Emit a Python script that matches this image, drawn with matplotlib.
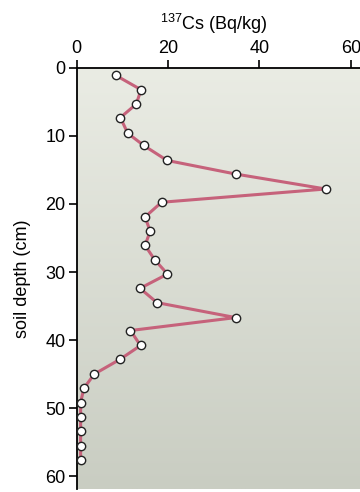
import numpy as np
import matplotlib
matplotlib.use("Agg")
import matplotlib.pyplot as plt
from matplotlib.colors import LinearSegmentedColormap

plt.rcParams['font.family'] = ['Liberation Sans Narrow', 'Liberation Sans', 'DejaVu Sans']
plt.rcParams['mathtext.fontset'] = 'custom'
plt.rcParams['mathtext.rm'] = 'Liberation Sans'

# 137Cs activity (Bq/kg) against soil depth (cm)
depth = [1.1, 3.2, 5.3, 7.3, 9.6, 11.4, 13.6, 15.6, 17.8, 19.75, 21.9, 24.0, 26.1,
         28.2, 30.3, 32.4, 34.5, 36.7, 38.6, 40.8, 42.8, 45.0, 47.1, 49.2, 51.3,
         53.4, 55.6, 57.6]
cs137 = [8.6, 14.1, 13.1, 9.6, 11.2, 14.7, 19.8, 34.8, 54.5, 18.6, 15.0, 16.1, 15.0,
         17.1, 19.9, 13.9, 17.6, 34.8, 11.8, 14.0, 9.6, 3.9, 1.6, 0.9, 0.9,
         0.9, 0.9, 0.9]
xticks = [0, 20, 40, 60]
yticks = [0, 10, 20, 30, 40, 50, 60]

fig = plt.figure(figsize=(3.6, 4.92), dpi=100)
ax = fig.add_axes([0.2125, 0.006, 0.7875, 0.856])

# background gradient, light at top, darker at bottom
cmap = LinearSegmentedColormap.from_list('bg', ['#eaece4', '#c9cdc2'])
grad = np.linspace(0, 1, 256).reshape(-1, 1)
ax.imshow(grad, extent=[0, 1, 0, 1], transform=ax.transAxes, aspect='auto',
          cmap=cmap, zorder=0, origin='upper')

ax.plot(cs137, depth, color='#c6627b', lw=2.2, zorder=2, solid_capstyle='round')
ax.plot(cs137, depth, 'o', ms=6, mfc='white', mec='#222222', mew=1.0, zorder=3)

ax.set_xlim(0, 62)
ax.set_ylim(61.9, 0)
ax.xaxis.tick_top()
ax.set_xticks(xticks)
ax.set_yticks(yticks)
ax.tick_params(axis='both', direction='out', length=6, width=1.2, labelsize=13, pad=2)
for s in ['right', 'bottom']:
    ax.spines[s].set_visible(False)
for s in ['top', 'left']:
    ax.spines[s].set_linewidth(1.3)

ax.text(30, -4.7, r'$^{137}$Cs (Bq/kg)', ha='center', va='bottom', fontsize=13)
ax.set_ylabel('soil depth (cm)', fontsize=13, labelpad=10)

fig.savefig('out.png', dpi=100)
